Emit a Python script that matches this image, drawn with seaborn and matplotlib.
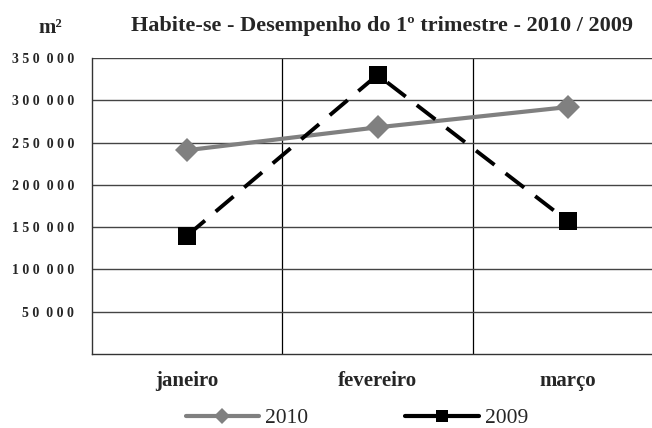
import numpy as np
import pandas as pd
import matplotlib.pyplot as plt
import seaborn as sns
from matplotlib.lines import Line2D

# dados
meses = ["janeiro", "fevereiro", "março"]
area_2010 = [241000, 268000, 292000]
area_2009 = [140000, 330000, 157000]
yticks = [50000, 100000, 150000, 200000, 250000, 300000, 350000]

df = pd.DataFrame({
    "mes": meses * 2,
    "area": area_2010 + area_2009,
    "ano": ["2010"] * 3 + ["2009"] * 3,
})


def espacado(v):
    # rótulos com letras espaçadas como no original: "3 5 0  0 0 0"
    grupos = f"{v:,}".split(",")
    return "  ".join(" ".join(g) for g in grupos)


sns.set_style("white")
plt.rcParams["font.family"] = ["Liberation Serif", "DejaVu Serif"]

fig = plt.figure(figsize=(6.52, 4.28), dpi=100)
ax = fig.add_axes([92 / 652, 1 - 354 / 428, 571 / 652, 296 / 428])

sns.lineplot(data=df, x="mes", y="area", hue="ano", style="ano", sort=False,
             palette={"2010": "#808080", "2009": "black"},
             markers={"2010": "D", "2009": "s"},
             dashes={"2010": "", "2009": (6, 3.6)},
             markeredgewidth=0, ax=ax, legend=False)
for ln in ax.lines:
    if ln.get_color() == "black":
        ln.set_linewidth(2.8)
        ln.set_markersize(13)
    else:
        ln.set_linewidth(3)
        ln.set_markersize(12)

ax.set_xlim(-0.5, 2.5)
ax.set_ylim(0, 350000)

# grade
ax.set_yticks(yticks)
ax.set_yticklabels([espacado(v) for v in yticks], fontsize=10, fontweight="bold")
ax.set_xticks([0.5, 1.5])
ax.set_xticklabels([])
ax.set_xticks([0, 1, 2], minor=True)
ax.set_xticklabels(meses, minor=True, fontsize=15, fontweight="bold")
ax.tick_params(axis="x", which="minor", length=0, pad=12)
ax.tick_params(axis="x", which="major", length=5, width=1, color="black", direction="out")
ax.tick_params(axis="y", length=5, width=1, color="black", direction="out", pad=8)
ax.grid(True, axis="y", color="#444444", linewidth=1)
ax.grid(True, axis="x", which="major", color="black", linewidth=0.9)
ax.set_axisbelow(True)
for s in ["top", "right"]:
    ax.spines[s].set_visible(False)
for s in ["left", "bottom"]:
    ax.spines[s].set_color("#333333")
    ax.spines[s].set_linewidth(1)
ax.set_xlabel("")
ax.set_ylabel("")

fig.text(50 / 652, 1 - 28 / 428, "m²", fontsize=15, fontweight="bold", ha="center", va="center")
fig.text(382 / 652, 1 - 26 / 428, "Habite-se - Desempenho do 1º trimestre - 2010 / 2009",
         fontsize=16, fontweight="bold", ha="center", va="center")

handles = [
    Line2D([], [], color="#808080", lw=3, marker="D", markersize=8, markeredgewidth=0),
    Line2D([], [], color="black", lw=3, marker="s", markersize=9, markeredgewidth=0),
]
fig.legend(handles, ["2010", "2009"], loc="center", bbox_to_anchor=(357 / 652, 1 - 418 / 428),
           ncol=2, frameon=False, fontsize=15.5, handlelength=3.4, handletextpad=0.3,
           columnspacing=4.5)

fig.savefig("out.png", dpi=100)
